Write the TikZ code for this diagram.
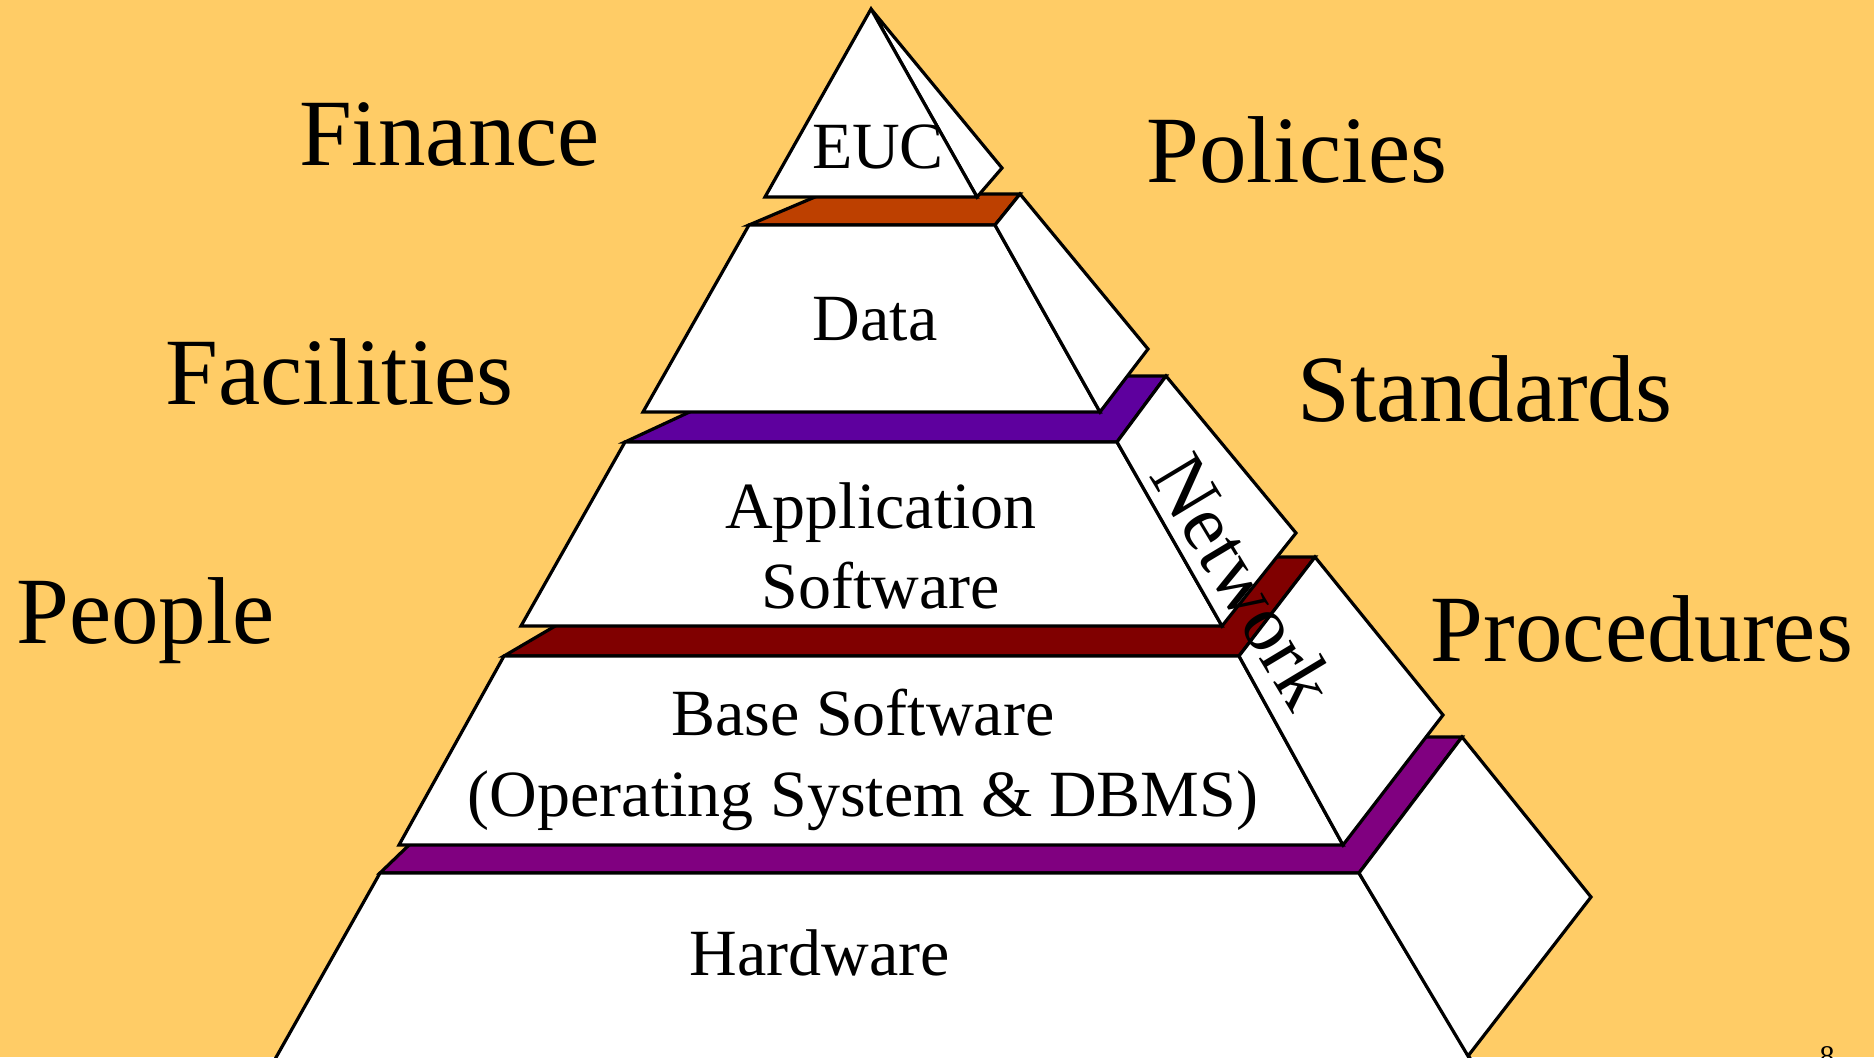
\documentclass[tikz,border=0pt]{standalone}
\usepackage{fontspec}
\setmainfont{Liberation Serif}
\definecolor{bg}{RGB}{255,204,102}
\definecolor{bandA}{RGB}{189,64,0}
\definecolor{bandB}{RGB}{94,0,158}
\definecolor{bandC}{RGB}{128,0,0}
\definecolor{bandD}{RGB}{128,0,128}
\begin{document}
\begin{tikzpicture}[x=0.5pt,y=-0.5pt,
  face/.style={draw=black,line width=1.6pt,fill=white},
  band/.style={draw=black,line width=1.6pt,fill=#1},
  inner/.style={font=\fontsize{33}{40}\selectfont,anchor=base,inner sep=0pt},
  outer/.style={font=\fontsize{47.5}{57}\selectfont,anchor=base,inner sep=0pt}]
\path[use as bounding box, clip] (0,0) rectangle (1874,1057);
\fill[bg] (0,0) rectangle (1874,1057);

% Hardware block
\draw[band=bandD] (380,873) -- (521,737) -- (1462,737) -- (1359,873) -- cycle;
\draw[face] (380,873) -- (1359,873) -- (1495,1100) -- (252,1100) -- cycle;
\draw[face] (1359,873) -- (1462,737) -- (1591,897) -- (1468,1056) -- cycle;

% Base software block
\draw[band=bandC] (504,656) -- (673,557) -- (1315,557) -- (1239,656) -- cycle;
\draw[face] (504,656) -- (1239,656) -- (1343,845) -- (399,845) -- cycle;
\draw[face] (1239,656) -- (1315,557) -- (1443,715) -- (1343,845) -- cycle;

% Application block
\draw[band=bandB] (625,442) -- (767,376) -- (1166,376) -- (1117,442) -- cycle;
\draw[face] (625,442) -- (1117,442) -- (1222,626) -- (521,626) -- cycle;
\draw[face] (1117,442) -- (1166,376) -- (1296,533) -- (1222,626) -- cycle;

% Data block
\draw[band=bandA] (749,225) -- (822,194) -- (1020,194) -- (995,225) -- cycle;
\draw[face] (749,225) -- (995,225) -- (1100,412) -- (643,412) -- cycle;
\draw[face] (995,225) -- (1020,194) -- (1148,349) -- (1100,412) -- cycle;

% EUC
\draw[face] (871,9) -- (1002,168) -- (977,197) -- cycle;
\draw[face] (765,197) -- (977,197) -- (871,9) -- cycle;

% layer labels
\node[inner] (euc) at (878,168) {EUC};
\node[inner] (data) at (875,340) {Data};
\node[inner] (app1) at (881,528) {Application};
\node[inner] (app2) at (881,608) {Software};
\node[inner] (base1) at (863,735) {Base Software};
\node[inner] (base2) at (863,816) {(Operating System \& DBMS)};
\node[inner] (hw) at (820,975) {Hardware};
\node[font=\fontsize{40}{48}\selectfont,anchor=base,rotate=-59,inner sep=0pt] (net) at (1221,595) {Network};

% surrounding labels
\node[outer] (fin) at (449.5,165) {Finance};
\node[outer] (pol) at (1297,182) {Policies};
\node[outer] (fac) at (339.5,404) {Facilities};
\node[outer] (std) at (1485,421) {Standards};
\node[outer] (ppl) at (145.5,643) {People};
\node[outer] (proc) at (1642,661) {Procedures};
\node[font=\fontsize{15}{18}\selectfont,anchor=base,inner sep=0pt] (pg) at (1827,1066) {8};
\end{tikzpicture}
\end{document}
